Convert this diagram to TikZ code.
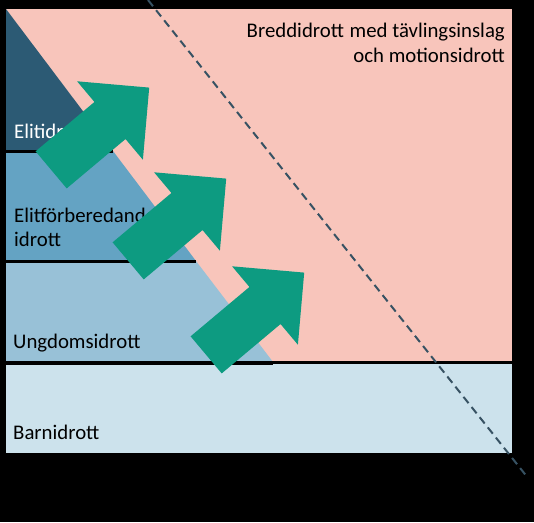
\documentclass[tikz,border=0pt]{standalone}
\usepackage{fontspec}
\setmainfont{Carlito}
\usepackage{tikz}
\usetikzlibrary{shapes.arrows}
\definecolor{SportBandColor0}{RGB}{44,90,116}
\definecolor{SportBandColor1}{RGB}{100,163,195}
\definecolor{SportBandColor2}{RGB}{152,193,215}
\definecolor{SportBandColor3}{RGB}{204,226,236}
\definecolor{SportBreddColor}{RGB}{248,197,187}
\definecolor{SportArrowColor}{RGB}{13,155,129}
\definecolor{SportDashColor}{RGB}{55,82,99}
\begin{document}
\begin{tikzpicture}[x=1pt,y=-1pt,
  arr/.style={single arrow,fill=SportArrowColor,draw=none,rotate=40,anchor=tail,
    inner xsep=0pt,inner ysep=24pt,minimum height=128pt,
    single arrow head extend=27pt,single arrow tip angle=90},
  lbl/.style n args={2}{#1,anchor=#2,inner sep=0pt,font=\fontsize{20.8}{25}\selectfont},
  sep/.style={draw=black,line width=#1}]
\fill[black] (0,0) rectangle (534,522);
\useasboundingbox (0,0) rectangle (534,522);
% background areas
\fill[SportBreddColor] (6,9) rectangle (512,362);
\fill[SportBandColor3] (6,363) rectangle (512,453);
\coordinate (e0) at (6,9);
\coordinate (e1) at (113,151);
\coordinate (e2) at (196,261);
\coordinate (e3) at (273,362);
\fill[SportBandColor0] (e0) -- (e1) -- (6,151) -- cycle;
\fill[SportBandColor1] (6,151) -- (e1) -- (e2) -- (6,261) -- cycle;
\fill[SportBandColor2] (6,261) -- (e2) -- (e3) -- (6,362) -- cycle;
\draw[sep=3pt] (6,151) -- (e1);
\draw[sep=3pt] (6,261) -- (e2);
\draw[sep=3pt] (6,362.5) -- (512,362.5);
\draw[sep=4pt] (6,363) -- (273,363);
\draw[SportDashColor,line width=2pt,dash pattern=on 8pt off 5pt] (148,0) -- (528,478);
% labels
\node[lbl={black}{base east}](t0) at (505,37) {Breddidrott\hspace{1pt} med tävlingsinslag};
\node[lbl={black}{base east}](t1) at (505,62) {och motionsidrott};
\node[lbl={white}{base west}](t2) at (14,138) {Elitidrott};
\node[lbl={black}{base west}](t3) at (14,222) {Elitförberedande};
\node[lbl={black}{base west}](t4) at (14,246) {idrott};
\node[lbl={black}{base west}](t5) at (13,348) {Ungdomsidrott};
\node[lbl={black}{base west}](t6) at (13,439) {Barnidrott};
% arrows
\foreach \i/\x/\y in {0/51/170,1/128/261,2/206/355} {
   \node[arr](a\i) at (\x,\y) {};
}
\end{tikzpicture}
\end{document}
